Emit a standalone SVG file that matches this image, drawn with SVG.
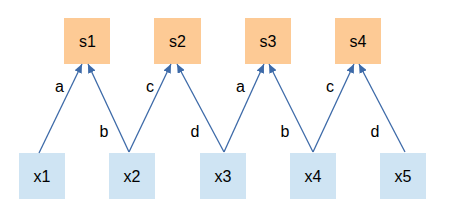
<svg xmlns="http://www.w3.org/2000/svg" width="452" height="215" viewBox="0 0 452 215">
<style>
.s{fill:#fdca95}
.x{fill:#cfe4f3}
.t{font-family:"Liberation Sans",Arial,sans-serif;font-size:16px;fill:#000;text-anchor:middle}
.e{stroke:#3d6aa8;stroke-width:1.3;fill:none;marker-end:url(#ah)}
</style>
<defs>
<marker id="ah" markerUnits="userSpaceOnUse" markerWidth="10" markerHeight="8" refX="9" refY="4" orient="auto">
<path d="M0,0 L9,4 L0,8 z" fill="#3d6aa8"/>
</marker>
</defs>
<rect width="452" height="215" fill="#fff"/>
<g id="s1"><rect class="s" x="64" y="18" width="46" height="46"/><text class="t" x="87.5" y="47">s1</text></g>
<g id="s2"><rect class="s" x="154" y="18" width="47" height="46"/><text class="t" x="177.5" y="47">s2</text></g>
<g id="s3"><rect class="s" x="245" y="18" width="46" height="46"/><text class="t" x="268" y="47">s3</text></g>
<g id="s4"><rect class="s" x="335" y="18" width="46" height="46"/><text class="t" x="358" y="47">s4</text></g>
<g id="x1"><rect class="x" x="19" y="153" width="46" height="46"/><text class="t" x="42" y="182">x1</text></g>
<g id="x2"><rect class="x" x="109" y="153" width="46" height="46"/><text class="t" x="132" y="182">x2</text></g>
<g id="x3"><rect class="x" x="200" y="153" width="46" height="46"/><text class="t" x="223" y="182">x3</text></g>
<g id="x4"><rect class="x" x="290" y="153" width="46" height="46"/><text class="t" x="313" y="182">x4</text></g>
<g id="x5"><rect class="x" x="380" y="153" width="46" height="46"/><text class="t" x="403" y="182">x5</text></g>
<g id="connectors">
<line class="e" x1="39" y1="153" x2="82" y2="64"/>
<line class="e" x1="129" y1="152" x2="88" y2="64"/>
<line class="e" x1="129" y1="152" x2="171" y2="64"/>
<line class="e" x1="224" y1="152" x2="177" y2="64"/>
<line class="e" x1="224" y1="152" x2="264" y2="64"/>
<line class="e" x1="313" y1="152" x2="269" y2="64"/>
<line class="e" x1="313" y1="152" x2="354" y2="64"/>
<line class="e" x1="405" y1="152" x2="359" y2="64"/>
</g>
<g id="labels">
<text class="t" x="59.5" y="92">a</text>
<text class="t" x="150" y="92">c</text>
<text class="t" x="240.5" y="92">a</text>
<text class="t" x="330" y="92">c</text>
<text class="t" x="104" y="137">b</text>
<text class="t" x="195" y="137">d</text>
<text class="t" x="285" y="137">b</text>
<text class="t" x="375" y="137">d</text>
</g>
</svg>
